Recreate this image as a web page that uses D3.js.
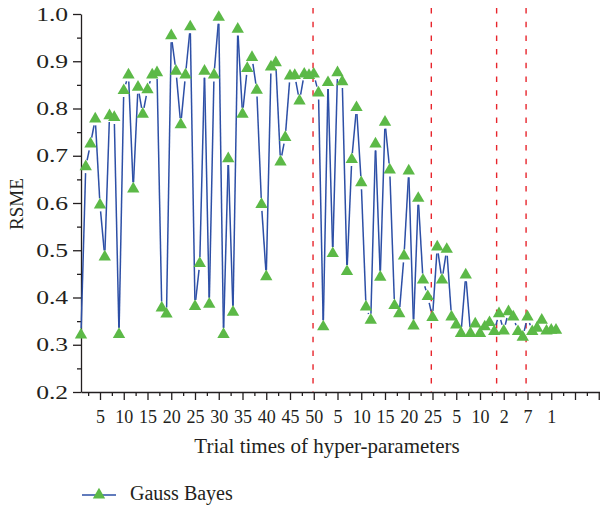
<!DOCTYPE html>
<html>
<head>
<meta charset="utf-8">
<script src="https://cdn.jsdelivr.net/npm/d3@7"></script>
<style>
body { margin: 0; background: #fff; }
text { font-family: "Liberation Serif", "Times New Roman", serif; fill: #231f20; }
</style>
</head>
<body>
<div class="chart"></div>
<script>
// Gauss Bayes RSME for each hyper-parameter trial

var rsme = [0.321, 0.677, 0.725, 0.778, 0.596, 0.486, 0.785, 0.781, 0.322, 0.838,
	0.871, 0.630, 0.845, 0.788, 0.840, 0.871, 0.876, 0.378, 0.365, 0.954,
	0.879, 0.766, 0.871, 0.973, 0.381, 0.472, 0.879, 0.386, 0.871, 0.993,
	0.322, 0.694, 0.369, 0.968, 0.788, 0.885, 0.908, 0.839, 0.597, 0.444,
	0.888, 0.897, 0.687, 0.739, 0.869, 0.870, 0.816, 0.873, 0.870, 0.873,
	0.833, 0.338, 0.855, 0.493, 0.876, 0.857, 0.455, 0.692, 0.802, 0.643,
	0.380, 0.352, 0.725, 0.443, 0.771, 0.670, 0.383, 0.366, 0.488, 0.668,
	0.340, 0.610, 0.437, 0.402, 0.358, 0.507, 0.437, 0.502, 0.359, 0.342,
	0.324, 0.448, 0.324, 0.344, 0.324, 0.338, 0.347, 0.328, 0.366, 0.329,
	0.370, 0.359, 0.328, 0.316, 0.359, 0.328, 0.335, 0.352, 0.329, 0.331,
	0.331];

// x tick positions (trial index) and the labels printed under them
var tickIndex = [5, 10, 15, 20, 25, 30, 35, 40, 45, 50,
	55, 60, 65, 70, 75, 80, 85, 90, 95, 100];
var tickText = ['5', '10', '15', '20', '25', '30', '35', '40', '45', '50',
	'5', '10', '15', '20', '25', '5', '10', '2', '7', '1'];

// red dashed separators between the search stages
var breaks = [49.85, 74.75, 88.5, 94.7];

var yTicks = [0.2, 0.25, 0.3, 0.35, 0.4, 0.45, 0.5, 0.55, 0.6, 0.65,
	0.7, 0.75, 0.8, 0.85, 0.9, 0.95, 1.0];

var seriesName = 'Gauss Bayes';

var w = 600, h = 507,
	gap = 6.5; // gap between line and symbol

var blue = '#2d4fa6',
	green = '#5cb947',
	red = '#e8252c';

var x = d3.scaleLinear().domain([1, 111]).range([81, 603.5]);
var y = d3.scaleLinear().domain([0.2, 1.0]).range([392, 14]);

var svg = d3.select('.chart').append('svg')
			.attr('width', w)
			.attr('height', h);

// separators
svg.selectAll('.sep')
		.data(breaks)
	.enter().append('line')
		.attr('class', 'sep')
		.attr('x1', function(d) { return x(d); })
		.attr('x2', function(d) { return x(d); })
		.attr('y1', y(1.0) - 6)
		.attr('y2', y(0.2))
		.attr('stroke', red)
		.attr('stroke-width', 1.4)
		.attr('stroke-dasharray', '5.5,8.2');

// axes
var xAxis = d3.axisBottom(x)
	.tickValues(d3.range(1, 45).map(function(d) { return d * 2.5; }))
	.tickSize(4)
	.tickSizeOuter(0)
	.tickFormat(function(d) {
		var k = tickIndex.indexOf(d);
		return k < 0 ? '' : tickText[k];
	});

var gx = svg.append('g')
	.attr('transform', 'translate(0,' + y(0.2) + ')')
	.call(xAxis);

gx.selectAll('.tick line')
	.attr('y2', function(d) { return d % 5 == 0 ? 8 : 4; });
gx.selectAll('.tick text')
	.attr('y', 31)
	.attr('dy', 0)
	.style('font-size', '18px');

var yAxis = d3.axisLeft(y)
	.tickValues(yTicks)
	.tickSize(4)
	.tickSizeOuter(0)
	.tickFormat(function(d) {
		return Math.round(d * 20) % 2 == 0 ? d3.format('.1f')(d) : '';
	});

var gy = svg.append('g')
	.attr('transform', 'translate(' + x(1) + ',0)')
	.call(yAxis);

gy.selectAll('.tick line')
	.attr('x2', function(d) { return Math.round(d * 20) % 2 == 0 ? -8 : -4; });
gy.selectAll('.tick text')
	.attr('x', -9.5)
	.attr('transform', 'scale(1.35,1)')
	.style('font-size', '19px');

svg.selectAll('.domain, .tick line')
	.attr('stroke', '#231f20')
	.attr('stroke-width', 1.3);

// axis titles
svg.append('text')
	.attr('x', 327)
	.attr('y', 453)
	.attr('text-anchor', 'middle')
	.style('font-size', '21px')
	.text('Trial times of hyper-parameters');

svg.append('text')
	.attr('transform', 'translate(23,' + 204 + ') rotate(-90)')
	.attr('text-anchor', 'middle')
	.style('font-size', '19px')
	.text('RSME');

// line with a gap around each symbol
var pts = rsme.map(function(v, i) { return [x(i + 1), y(v)]; });

var segs = d3.pairs(pts).map(function(p) {
	var dx = p[1][0] - p[0][0],
		dy = p[1][1] - p[0][1],
		len = Math.sqrt(dx * dx + dy * dy),
		ux = dx / len, uy = dy / len;
	return { len: len,
		x1: p[0][0] + ux * gap, y1: p[0][1] + uy * gap,
		x2: p[1][0] - ux * gap, y2: p[1][1] - uy * gap };
}).filter(function(s) { return s.len > 2 * gap; });

svg.selectAll('.seg')
		.data(segs)
	.enter().append('line')
		.attr('class', 'seg')
		.attr('x1', function(d) { return d.x1; })
		.attr('y1', function(d) { return d.y1; })
		.attr('x2', function(d) { return d.x2; })
		.attr('y2', function(d) { return d.y2; })
		.attr('stroke', blue)
		.attr('stroke-width', 1.5);

var tri = d3.symbol().type(d3.symbolTriangle).size(66);

svg.selectAll('.pt')
		.data(pts)
	.enter().append('path')
		.attr('class', 'pt')
		.attr('d', tri)
		.attr('transform', function(d) { return 'translate(' + d + ')'; })
		.attr('fill', green);

// legend
var lg = svg.append('g').attr('transform', 'translate(82,495)');
lg.append('line')
	.attr('x1', 0).attr('x2', 34)
	.attr('stroke', blue)
	.attr('stroke-width', 1.5);
lg.append('path')
	.attr('d', tri)
	.attr('transform', 'translate(17,0)')
	.attr('fill', green);
lg.append('text')
	.attr('x', 48)
	.attr('y', 5)
	.style('font-size', '20px')
	.text(seriesName);
</script>
</body>
</html>
